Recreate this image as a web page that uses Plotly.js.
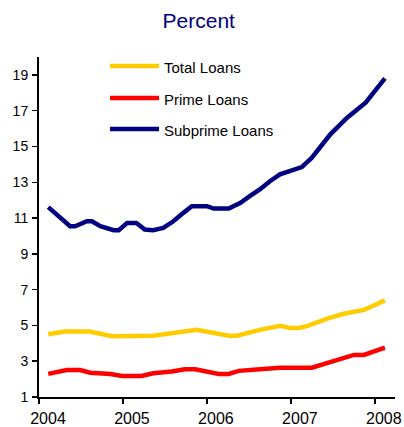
<!DOCTYPE html>
<html>
<head>
<meta charset="utf-8">
<script src="https://cdn.plot.ly/plotly-3.0.1.min.js"></script>
<style>
  html, body { margin: 0; padding: 0; background: #fff; }
  #chart { width: 404px; height: 427px; }
</style>
</head>
<body>
<div id="chart"></div>
<script>
// Delinquency rates on loans, percent, by decimal year
const seriesNames = ["Total Loans", "Prime Loans", "Subprime Loans"];
const seriesColors = ["#FFCC00", "#FF0000", "#000080"];

const totalYears = [2004.11, 2004.31, 2004.60, 2004.87, 2005.36, 2005.60, 2005.88, 2006.26, 2006.36,
                    2006.63, 2006.87, 2006.99, 2007.11, 2007.21, 2007.45, 2007.63, 2007.87, 2007.98, 2008.12];
const totalValues = [4.51, 4.66, 4.66, 4.40, 4.42, 4.57, 4.75, 4.42, 4.42,
                     4.75, 4.98, 4.86, 4.87, 4.99, 5.41, 5.65, 5.87, 6.10, 6.40];

const primeYears = [2004.11, 2004.33, 2004.49, 2004.61, 2004.85, 2004.99, 2005.22, 2005.36, 2005.58,
                    2005.74, 2005.86, 2006.14, 2006.26, 2006.38, 2006.63, 2006.87, 2007.25, 2007.35,
                    2007.63, 2007.75, 2007.87, 2008.12];
const primeValues = [2.29, 2.51, 2.51, 2.36, 2.29, 2.18, 2.18, 2.33, 2.42,
                     2.55, 2.55, 2.29, 2.29, 2.46, 2.55, 2.64, 2.64, 2.79,
                     3.22, 3.35, 3.35, 3.76];

const subprimeYears = [2004.11, 2004.37, 2004.43, 2004.57, 2004.63, 2004.73, 2004.89, 2004.95, 2005.05,
                       2005.16, 2005.26, 2005.36, 2005.48, 2005.60, 2005.72, 2005.82, 2006.00, 2006.08,
                       2006.26, 2006.40, 2006.51, 2006.63, 2006.75, 2006.87, 2007.13, 2007.25, 2007.47,
                       2007.67, 2007.89, 2008.12];
const subprimeValues = [11.61, 10.54, 10.54, 10.82, 10.82, 10.54, 10.32, 10.32, 10.73,
                        10.73, 10.36, 10.32, 10.45, 10.82, 11.29, 11.66, 11.66, 11.53,
                        11.53, 11.85, 12.22, 12.60, 13.06, 13.44, 13.85, 14.37, 15.68,
                        16.61, 17.45, 18.80];

const yearTicks = [2004, 2005, 2006, 2007, 2008];
const yearLabels = ["2004", "2005", "2006", "2007", "2008"];
const percentTicks = [1, 3, 5, 7, 9, 11, 13, 15, 17, 19];

const font = "Arial, 'Liberation Sans', sans-serif";

const xs = [totalYears, primeYears, subprimeYears];
const ys = [totalValues, primeValues, subprimeValues];

const traces = seriesNames.map((name, i) => ({
  type: "scatter",
  mode: "lines",
  name: name,
  x: xs[i],
  y: ys[i],
  line: { color: seriesColors[i], width: 4.5, shape: "linear" },
  showlegend: false,
  hoverinfo: "skip"
}));

// Hand-placed key: a line sample and a label per series
const keyRowsY = [66, 98, 129];
const plotTop = 57, plotHeight = 340;
const toPaperY = py => 1 - (py - plotTop) / plotHeight;
const plotLeft = 39, plotWidth = 356;
const toPaperX = px => (px - plotLeft) / plotWidth;

const shapes = seriesNames.map((n, i) => ({
  type: "line", xref: "paper", yref: "paper",
  x0: toPaperX(110), x1: toPaperX(159),
  y0: toPaperY(keyRowsY[i]), y1: toPaperY(keyRowsY[i]),
  line: { color: seriesColors[i], width: 4.5 }
}));

const annotations = seriesNames.map((n, i) => ({
  xref: "paper", yref: "paper",
  x: toPaperX(162), y: toPaperY(keyRowsY[i] + 1),
  xanchor: "left", yanchor: "middle",
  text: n, showarrow: false,
  font: { family: font, size: 15, color: "#000" }
}));

const layout = {
  width: 404, height: 427,
  margin: { l: 39, r: 9, t: 57, b: 30 },
  paper_bgcolor: "#fff",
  plot_bgcolor: "#fff",
  title: {
    text: "Percent",
    font: { family: font, size: 21, color: "#000080" },
    xref: "container", yref: "container",
    x: 0.492, y: 0.952, xanchor: "center", yanchor: "middle"
  },
  xaxis: {
    range: [2004, 2008.24],
    tickvals: yearTicks, ticktext: yearLabels,
    ticks: "outside", ticklen: 5, tickwidth: 1.5, tickcolor: "#000",
    showline: true, linecolor: "#000", linewidth: 2,
    showgrid: false, zeroline: false,
    ticklabelshift: 9,
    ticklabelstandoff: 1,
    tickfont: { family: font, size: 16, color: "#000" }
  },
  yaxis: {
    range: [1, 20],
    tickvals: percentTicks,
    ticks: "outside", ticklen: 5, tickwidth: 1.5, tickcolor: "#000",
    showline: true, linecolor: "#000", linewidth: 2,
    showgrid: false, zeroline: false,
    ticklabelstandoff: 1,
    tickfont: { family: font, size: 14, color: "#000" }
  },
  shapes: shapes,
  annotations: annotations,
  showlegend: false
};

Plotly.newPlot("chart", traces, layout, { displayModeBar: false, staticPlot: true });
</script>
</body>
</html>
